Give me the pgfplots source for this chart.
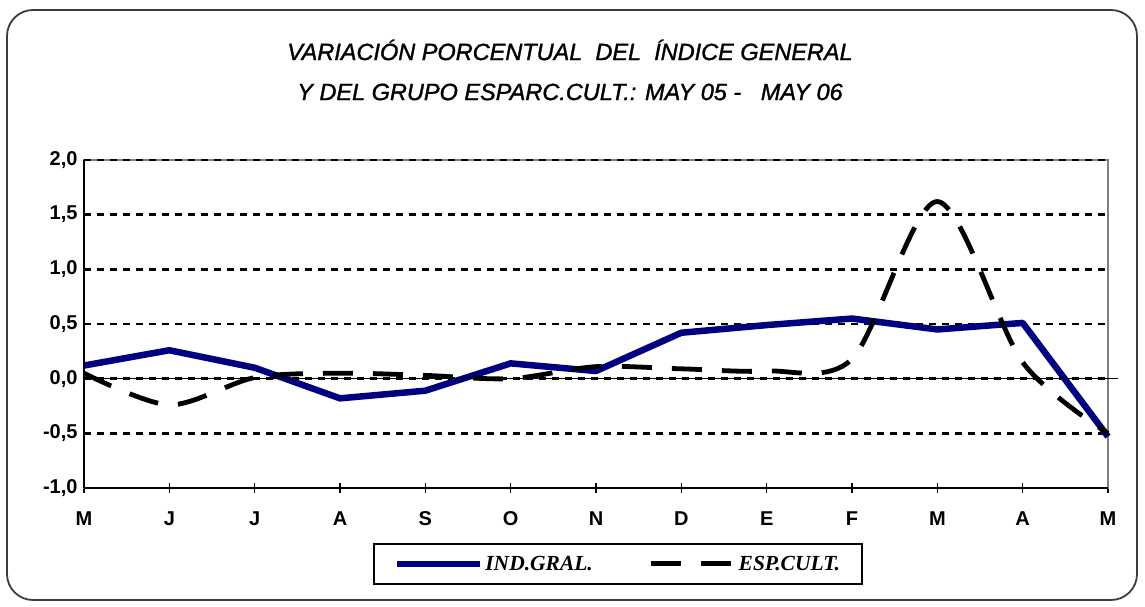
\documentclass[border=0pt]{standalone}
\usepackage{pgfplots}
\pgfplotsset{compat=1.18}
\usepackage{fontspec}
\setmainfont{Liberation Sans}
\newfontfamily\timesf{Liberation Serif}
\newfontface\titlef{Liberation Sans Italic}[FakeBold=1.3]
\definecolor{navyb}{RGB}{0,0,128}
\definecolor{frameg}{RGB}{60,60,60}
\begin{document}
\begin{tikzpicture}[x=1pt,y=1pt]
\path[use as bounding box] (0,0) rectangle (1145,607);
\draw[frameg, line width=1.8pt, rounded corners=26pt] (7,7) rectangle (1137,597);
\node[font=\titlef\fontsize{23.5}{28}\selectfont] at (570,557) {VARIACIÓN PORCENTUAL~ DEL~ ÍNDICE GENERAL};
\node[font=\titlef\fontsize{23.5}{28}\selectfont] at (570,515) {Y DEL GRUPO ESPARC.CULT.: MAY 05 -~~ MAY 06};
\begin{axis}[
  at={(84pt,119pt)}, anchor=south west,
  scale only axis, width=1024pt, height=328pt,
  xmin=0, xmax=12, ymin=-1, ymax=2,
  xtick={0,...,12},
  xticklabels={M,J,J,A,S,O,N,D,E,F,M,A,M},
  ytick={-1,-0.5,0,0.5,1,1.5,2},
  yticklabels={{-1,0},{-0,5},{0,0},{0,5},{1,0},{1,5},{2,0}},
  ymajorgrids,
  grid style={black, line width=2.6pt, dash pattern=on 7pt off 6pt},
  axis line style={gray, line width=1.8pt},
  tick style={black, line width=1.5pt},
  xtick pos=bottom, ytick pos=left,
  major tick length=10pt,
  xtick align=center,
  ytick style={draw=none},
  tick label style={font=\fontsize{20}{22}\selectfont\bfseries},
  yticklabel style={anchor=east, xshift=-3pt},
  xticklabel style={anchor=north, yshift=-15pt},
  legend style={draw=black, line width=1.8pt, at={(0.2822,-0.1677)}, anchor=north west,
     font=\timesf\fontsize{21.5}{24}\selectfont\bfseries\itshape,
     legend columns=2, inner xsep=20pt, inner ysep=10pt,
     /tikz/every even column/.append style={column sep=54pt}},
  legend image code/.code={\draw[#1] (0pt,0pt) -- (83pt,0pt);},
  clip=false,
]
\addplot[navyb, line width=6.5pt, line join=round] coordinates {
(0,0.12) (1,0.26) (2,0.10) (3,-0.18) (4,-0.11) (5,0.14) (6,0.07) (7,0.42) (8,0.49) (9,0.55) (10,0.45) (11,0.51) (12,-0.53)};
\addlegendentry{IND.GRAL.}
\addplot[black, line width=4.8pt, dash pattern=on 30pt off 20pt, smooth, tension=0.5] coordinates {
(0,0.05) (1,-0.24) (2,0.01) (3,0.05) (4,0.03) (5,0.0) (6,0.11) (7,0.09) (8,0.07) (9,0.18) (10,1.62) (11,0.15) (12,-0.50)};
\addlegendentry{ESP.CULT.}
\draw[black, line width=2.6pt, dash pattern=on 7pt off 6pt] (rel axis cs:0,1) -- (rel axis cs:1,1);
\draw[black, line width=1.5pt] (rel axis cs:0,0) -- (rel axis cs:0,1);
\draw[black, line width=1.8pt] (rel axis cs:0,0) -- (rel axis cs:1,0);
\draw[black, line width=1.5pt] (axis cs:0,0) -- (axis cs:12.12,0);
\end{axis}
\end{tikzpicture}
\end{document}
